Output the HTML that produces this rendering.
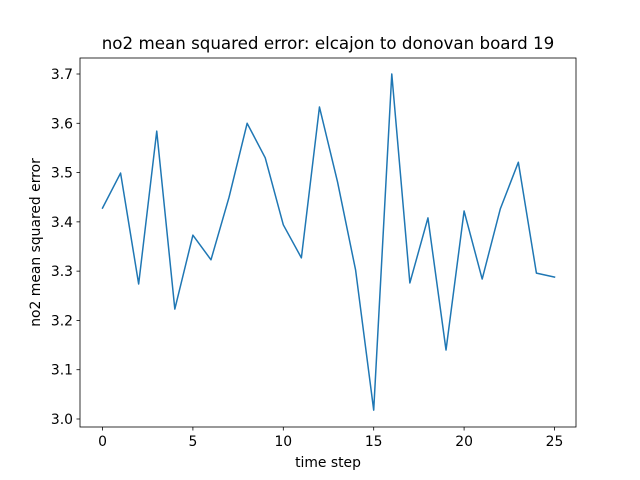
<!DOCTYPE html>
<html>
<head>
<meta charset="utf-8">
<style>
  html, body { margin: 0; padding: 0; background: #fff; }
  svg { display: block; font-family: "DejaVu Sans", "Liberation Sans", sans-serif; }
</style>
</head>
<body>
<svg id="chart" width="640" height="480" viewBox="0 0 640 480">
  <rect x="0" y="0" width="640" height="480" fill="#fff"/>
  <text x="328" y="49" font-size="16.7" text-anchor="middle" fill="#000">no2 mean squared error: elcajon to donovan board 19</text>
  <g id="xticks"></g>
  <g id="yticks"></g>
  <polyline id="series" fill="none" stroke="#1f77b4" stroke-width="1.5" stroke-linejoin="round" stroke-linecap="square"/>
  <rect x="80" y="58" width="496" height="369" fill="none" stroke="#000" stroke-width="0.8"/>
  <text x="328" y="467" font-size="13.9" text-anchor="middle">time step</text>
  <text transform="translate(40,242.5) rotate(-90)" font-size="13.9" text-anchor="middle">no2 mean squared error</text>
</svg>
<script>
const steps = [0,1,2,3,4,5,6,7,8,9,10,11,12,13,14,15,16,17,18,19,20,21,22,23,24,25];
const mseValues = [3.428,3.499,3.274,3.584,3.223,3.373,3.323,3.450,3.600,3.530,3.394,3.327,3.633,3.481,3.302,3.018,3.700,3.276,3.408,3.140,3.422,3.284,3.426,3.521,3.296,3.288];
const xTickValues = [0,5,10,15,20,25];
const yTickValues = [3.0,3.1,3.2,3.3,3.4,3.5,3.6,3.7];
const yTickLabels = ["3.0","3.1","3.2","3.3","3.4","3.5","3.6","3.7"];

const NS = "http://www.w3.org/2000/svg";
function xScale(v){ return 102.5 + (v - 0) * (554.5 - 102.5) / 25; }
function yScale(v){ return 419 - (v - 3.0) * (419 - 74) / 0.7; }

const pts = steps.map((s,i) => xScale(s).toFixed(2) + "," + yScale(mseValues[i]).toFixed(2)).join(" ");
document.getElementById("series").setAttribute("points", pts);

const xg = document.getElementById("xticks");
xTickValues.forEach(v => {
  const x = xScale(v);
  const l = document.createElementNS(NS, "line");
  l.setAttribute("x1", x); l.setAttribute("x2", x);
  l.setAttribute("y1", 427); l.setAttribute("y2", 430.5);
  l.setAttribute("stroke", "#000"); l.setAttribute("stroke-width", "0.8");
  
  
  xg.appendChild(l);
  const t = document.createElementNS(NS, "text");
  t.setAttribute("x", x); t.setAttribute("y", 446);
  t.setAttribute("font-size", "13.9"); t.setAttribute("text-anchor", "middle");
  t.textContent = String(v);
  
  
  xg.appendChild(t);
});

const yg = document.getElementById("yticks");
yTickValues.forEach((v,i) => {
  const y = yScale(v);
  const l = document.createElementNS(NS, "line");
  l.setAttribute("x1", 76.5); l.setAttribute("x2", 80);
  l.setAttribute("y1", y); l.setAttribute("y2", y);
  l.setAttribute("stroke", "#000"); l.setAttribute("stroke-width", "0.8");
  
  
  yg.appendChild(l);
  const t = document.createElementNS(NS, "text");
  t.setAttribute("x", 73); t.setAttribute("y", y + 5);
  t.setAttribute("font-size", "13.9"); t.setAttribute("text-anchor", "end");
  t.textContent = yTickLabels[i];
  
  
  yg.appendChild(t);
});
</script>
</body>
</html>
